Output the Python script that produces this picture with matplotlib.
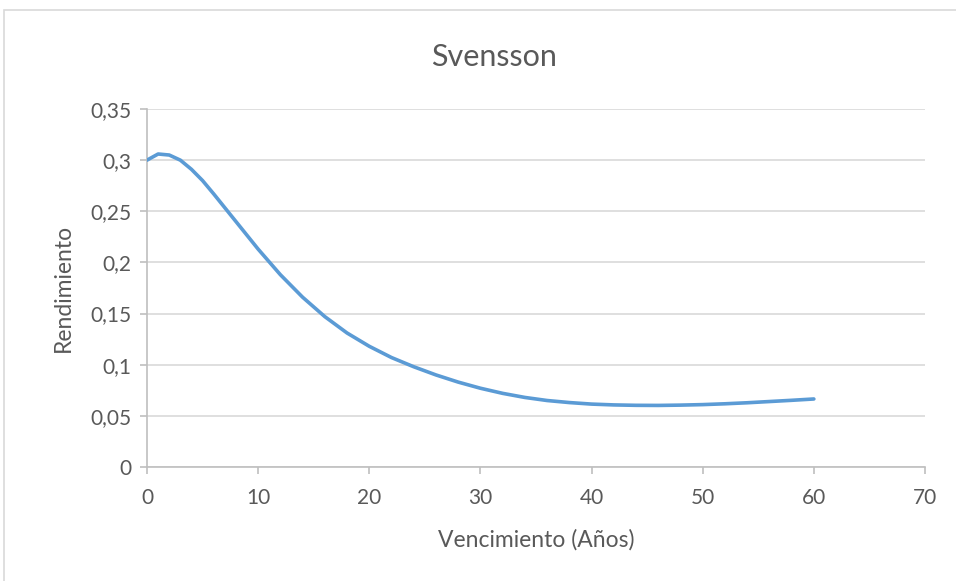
import matplotlib
matplotlib.use('Agg')
import matplotlib.pyplot as plt
from matplotlib.patches import Rectangle
from matplotlib.ticker import FuncFormatter

# curva Svensson
vencimiento = [0, 1, 2, 3, 4, 5, 6, 8, 10, 12, 14, 16, 18, 20, 22, 24, 26, 28,
               30, 32, 34, 36, 38, 40, 42, 44, 46, 48, 50, 52, 54, 56, 58, 60]
rendimiento = [0.300, 0.306, 0.305, 0.300, 0.291, 0.280, 0.267, 0.240, 0.213,
               0.188, 0.166, 0.147, 0.131, 0.118, 0.107, 0.098, 0.090, 0.083,
               0.077, 0.072, 0.068, 0.065, 0.063, 0.0615, 0.0607, 0.0603,
               0.0602, 0.0605, 0.061, 0.0618, 0.0628, 0.064, 0.0652, 0.0665]
xticks = [0, 10, 20, 30, 40, 50, 60, 70]
yticks = [0, 0.05, 0.1, 0.15, 0.2, 0.25, 0.3, 0.35]

plt.rcParams['font.family'] = ['Lato', 'DejaVu Sans']
txt = '#595959'
grid = '#D9D9D9'

fig = plt.figure(figsize=(9.56, 5.81), dpi=100)
fig.patches.append(Rectangle((4 / 956, -0.01), 1.0, (581 - 10) / 581 + 0.01,
                             transform=fig.transFigure, fill=False,
                             edgecolor='#D9D9D9', linewidth=1.2))
ax = fig.add_axes([147 / 956, (581 - 467) / 581, (925 - 147) / 956, (467 - 109) / 581])

ax.plot(vencimiento, rendimiento, color='#5B9BD5', linewidth=2.6,
        solid_capstyle='round', solid_joinstyle='round', zorder=3)

ax.set_xlim(0, 70)
ax.set_ylim(0, 0.35)
ax.set_xticks(xticks)
ax.set_yticks(yticks)


def coma(v, pos):
    s = ('%.2f' % v).rstrip('0').rstrip('.')
    return s.replace('.', ',')


ax.yaxis.set_major_formatter(FuncFormatter(coma))
ax.grid(axis='y', color=grid, linewidth=1.2)
ax.set_axisbelow(True)
for s in ['top', 'right']:
    ax.spines[s].set_visible(False)
for s in ['left', 'bottom']:
    ax.spines[s].set_color('#BFBFBF')
    ax.spines[s].set_linewidth(1.2)
ax.tick_params(colors='#BFBFBF', labelcolor=txt, labelsize=15, length=5, width=1.2)
ax.tick_params(axis='x', pad=10)
ax.tick_params(axis='y', pad=6)

fig.text(494 / 956, 1 - 57 / 581, 'Svensson', fontsize=22, color=txt,
         ha='center', va='center')
ax.set_xlabel('Vencimiento (Años)', fontsize=16.5, color=txt, labelpad=15)
ax.set_ylabel('Rendimiento', fontsize=16.5, color=txt, labelpad=12)

fig.savefig('out.png', dpi=100)
